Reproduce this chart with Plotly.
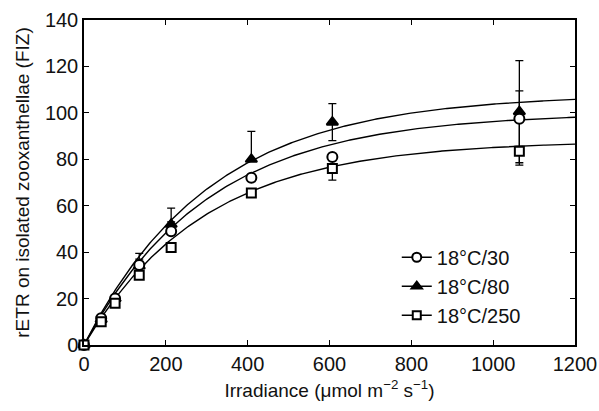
import numpy as np
import plotly.graph_objects as go

irradiance = [0, 42, 76, 135, 213, 409, 607, 1064]
series_names = ["18°C/30", "18°C/80", "18°C/250"]
rETR_30 = [0, 11.5, 20, 34.5, 49, 72, 81, 97.5]
rETR_80 = [0, 11, 20, 34, 52, 80, 96, 100.5]
rETR_250 = [0, 10, 18, 30, 42, 65.5, 76, 83.5]
err_30_plus = [0, 0, 0, 2.5, 4, 0, 0, 12]
err_30_minus = [0, 0, 0, 0, 0, 0, 0, 12]
err_80_plus = [0, 0, 0, 5.5, 7, 12, 8, 22]
err_80_minus = [0, 0, 0, 0, 0, 0, 8, 22]
err_250_plus = [0, 0, 0, 0, 0, 0, 0, 0]
err_250_minus = [0, 0, 0, 0, 0, 0, 5, 6]
# fitted P-I curve parameters (Pmax, alpha)
fit_pmax = [100, 108, 88]
fit_alpha = [0.33, 0.35, 0.30]

symbols = ["circle", "triangle-up", "square"]
fills = ["white", "black", "white"]
sizes = [10, 10, 9]
FONT = "Liberation Sans, Arial, sans-serif"

fig = go.Figure()
I_curve = np.linspace(0, 1200, 300)
for pmax, alpha in zip(fit_pmax, fit_alpha):
    fig.add_trace(go.Scatter(x=I_curve, y=pmax * (1 - np.exp(-alpha * I_curve / pmax)),
                             mode="lines", line=dict(color="black", width=1.4),
                             showlegend=False, hoverinfo="skip"))

data = [(rETR_30, err_30_plus, err_30_minus), (rETR_80, err_80_plus, err_80_minus),
        (rETR_250, err_250_plus, err_250_minus)]
for idx in [1, 0, 2]:
    vals, ep, em = data[idx]
    fig.add_trace(go.Scatter(
        x=irradiance, y=vals, mode="markers",
        marker=dict(symbol=symbols[idx], size=sizes[idx], color=fills[idx],
                    line=dict(color="black", width=2)),
        error_y=dict(type="data", array=ep, arrayminus=em, color="black", thickness=1.3, width=4),
        showlegend=False, cliponaxis=False))

for name, sym, fill, sz in zip(series_names, symbols, fills, sizes):
    fig.add_trace(go.Scatter(
        x=[None], y=[None], mode="lines+markers", name=name,
        line=dict(color="black", width=1.4),
        marker=dict(symbol=sym, size=sz - 1, color=fill,
                    line=dict(color="black", width=2))))

axis_common = dict(showline=True, linecolor="black", linewidth=1.5, mirror="ticks",
                   ticks="inside", ticklen=5, tickcolor="black", tickwidth=1.2,
                   showgrid=False, zeroline=False, automargin=False,
                   tickfont=dict(family=FONT, size=20, color="#111"))

fig.update_layout(
    width=599, height=411,
    margin=dict(l=84, r=24, t=20, b=66),
    plot_bgcolor="white", paper_bgcolor="white",
    font=dict(family=FONT, color="#111"),
    xaxis=dict(range=[0, 1200], dtick=200,
               title=dict(text="Irradiance (μmol m<sup>−2</sup> s<sup>−1</sup>)",
                          font=dict(size=19), standoff=10), **axis_common),
    yaxis=dict(range=[0, 140], dtick=20,
               title=dict(text="rETR on isolated zooxanthellae (FIZ)",
                          font=dict(size=19), standoff=10), **axis_common),
    legend=dict(x=0.637, y=0.33, xanchor="left", yanchor="top",
                font=dict(size=20), bgcolor="rgba(0,0,0,0)",
                tracegroupgap=0, itemwidth=30),
)

fig.write_html("out.html", config={"displayModeBar": False},
               post_script="document.body.style.margin='0px';document.body.style.overflow='hidden';")
